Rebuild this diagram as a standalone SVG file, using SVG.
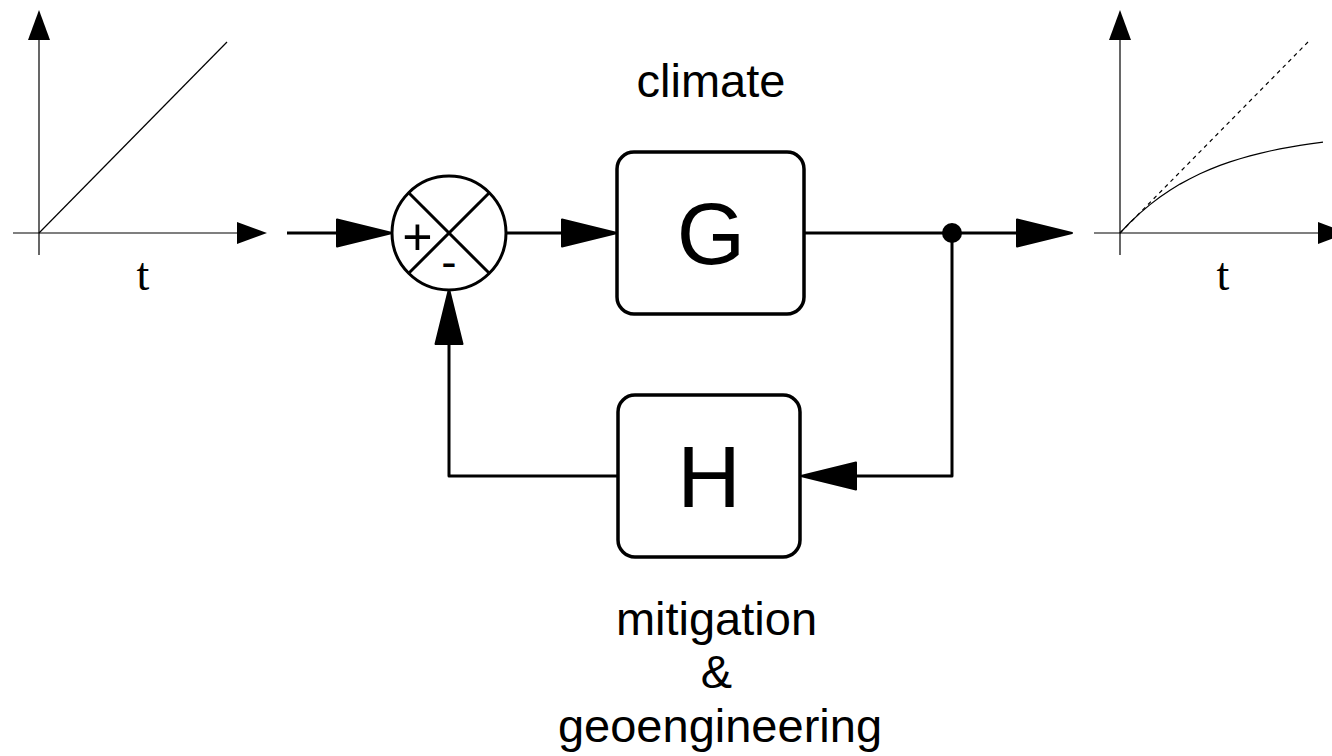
<svg xmlns="http://www.w3.org/2000/svg" width="1332" height="756" viewBox="0 0 1332 756">
  <style>
    .axis { stroke: #000; stroke-width: 1.2; fill: none; }
    .wire { stroke: #000; stroke-width: 3; fill: none; }
    .box { stroke: #000; stroke-width: 3.5; fill: #fff; }
    .lbl { font-family: "Liberation Sans", Arial, sans-serif; fill: #000; text-anchor: middle; }
    .tlbl { font-family: "Liberation Serif", "Times New Roman", serif; font-size: 46px; fill: #000; text-anchor: middle; }
  </style>
  <defs>
    <path id="bigHead" d="M0,0 L-55,-13.5 L-55,13.5 Z" fill="#000" stroke="#000" stroke-width="2" stroke-linejoin="round"/>
    <path id="axHead" d="M0,0 L-30,-11 L-30,11 Z" fill="#000"/>
  </defs>

  <rect width="1332" height="756" fill="#fff"/>

  <!-- input signal: ramp -->
  <g id="input-plot">
    <line class="axis" x1="39" y1="30" x2="39" y2="255"/>
    <use href="#axHead" transform="translate(39,10) rotate(-90)"/>
    <line class="axis" x1="13" y1="233" x2="245" y2="233"/>
    <use href="#axHead" transform="translate(267,233)"/>
    <line class="axis" x1="39" y1="233" x2="227" y2="42"/>
    <text class="tlbl" x="143" y="290">t</text>
  </g>

  <!-- output signal: response vs ramp -->
  <g id="output-plot">
    <line class="axis" x1="1120" y1="30" x2="1120" y2="255"/>
    <use href="#axHead" transform="translate(1120,10) rotate(-90)"/>
    <line class="axis" x1="1094" y1="233" x2="1326" y2="233"/>
    <use href="#axHead" transform="translate(1348,233)"/>
    <line class="axis" x1="1120" y1="233" x2="1308" y2="42" stroke-dasharray="4 4"/>
    <polyline class="axis" points="1120,233 1130,222.5 1140,213.1 1150,204.6 1160,197 1170,190.2 1180,184.1 1190,178.7 1200,173.7 1210,169.4 1220,165.4 1230,161.9 1240,158.7 1250,155.8 1260,153.3 1270,151 1280,148.9 1290,147.1 1300,145.4 1310,143.9 1323,142.2"/>
    <text class="tlbl" x="1223" y="290">t</text>
  </g>

  <!-- connectors -->
  <g id="connectors">
    <line class="wire" x1="287" y1="233" x2="340" y2="233"/>
    <use href="#bigHead" transform="translate(392,233)"/>
    <line class="wire" x1="506" y1="233" x2="566" y2="233"/>
    <use href="#bigHead" transform="translate(617,233)"/>
    <line class="wire" x1="804" y1="233" x2="1020" y2="233"/>
    <use href="#bigHead" transform="translate(1072,233)"/>
    <polyline class="wire" points="952,233 952,476 852,476" stroke-linejoin="round"/>
    <use href="#bigHead" transform="translate(801,476) rotate(180)"/>
    <polyline class="wire" points="618,476 449,476 449,340" stroke-linejoin="round"/>
    <use href="#bigHead" transform="translate(449,289) rotate(-90)"/>
    <circle cx="952" cy="233" r="10" fill="#000"/>
  </g>

  <!-- summing junction -->
  <g id="sum">
    <circle cx="449" cy="233" r="57" fill="#fff" stroke="#000" stroke-width="3"/>
    <line class="wire" x1="408.7" y1="192.7" x2="489.3" y2="273.3"/>
    <line class="wire" x1="489.3" y1="192.7" x2="408.7" y2="273.3"/>
    <text class="lbl" x="417.5" y="255" font-size="52">+</text>
    <text class="lbl" x="449" y="278" font-size="46">-</text>
  </g>

  <!-- plant -->
  <g id="G">
    <rect class="box" x="617" y="152" width="187" height="162" rx="17"/>
    <text class="lbl" x="711" y="264" font-size="88">G</text>
  </g>
  <text class="lbl" x="711" y="97" font-size="47">climate</text>

  <!-- feedback -->
  <g id="H">
    <rect class="box" x="618" y="395" width="182" height="162" rx="17"/>
    <text class="lbl" x="709" y="507" font-size="88">H</text>
  </g>
  <text class="lbl" font-size="47">
    <tspan x="723" y="635">mitigation</tspan>
    <tspan x="723" y="688">&amp;</tspan>
    <tspan x="720" y="742">geoengineering</tspan>
  </text>
</svg>
